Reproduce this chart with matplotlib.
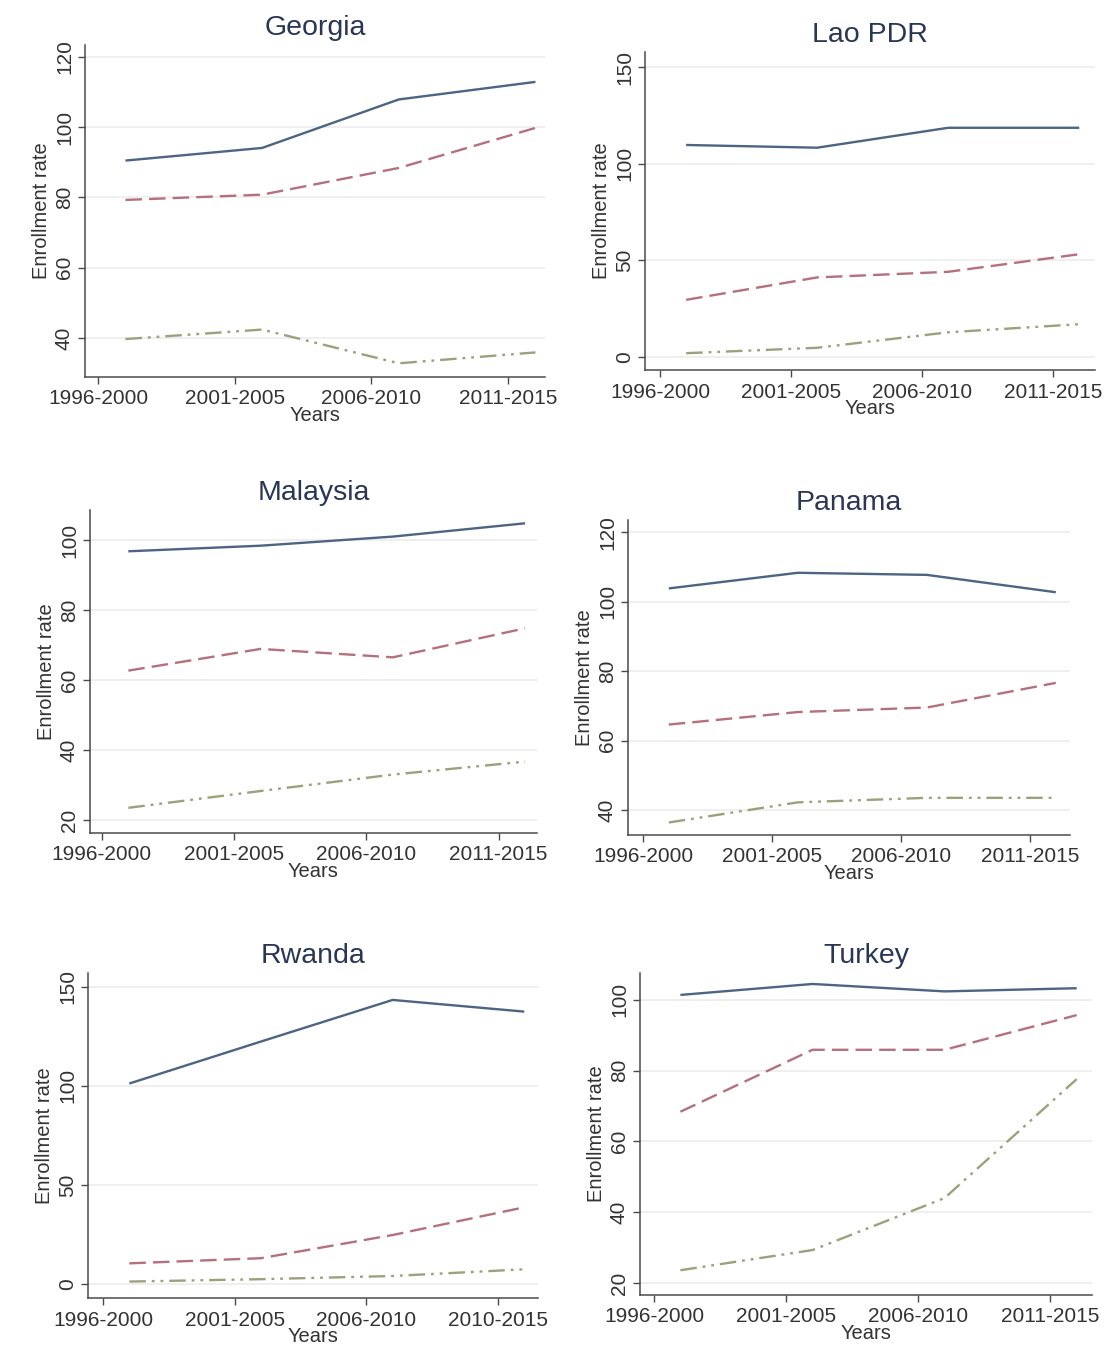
import matplotlib
matplotlib.use("Agg")
import matplotlib.pyplot as plt

# ---------------- data ----------------
periods = ["1996-2000", "2001-2005", "2006-2010", "2011-2015"]
periods_rwanda = ["1996-2000", "2001-2005", "2006-2010", "2010-2015"]
tick_years = [1996, 2001, 2006, 2011]
data_years = [1997, 2002, 2007, 2012]

georgia_primary = [90.5, 94.1, 107.9, 112.9]
georgia_secondary = [79.3, 80.8, 88.4, 99.8]
georgia_tertiary = [39.7, 42.4, 32.8, 35.9]

lao_primary = [109.7, 108.3, 118.6, 118.6]
lao_secondary = [29.6, 41.2, 44.1, 53.2]
lao_tertiary = [2.0, 4.8, 12.8, 17.0]

malaysia_primary = [96.8, 98.4, 101.0, 104.8]
malaysia_secondary = [62.7, 68.9, 66.5, 74.8]
malaysia_tertiary = [23.5, 28.3, 33.0, 36.7]

panama_primary = [103.8, 108.3, 107.7, 102.7]
panama_secondary = [64.6, 68.2, 69.5, 76.6]
panama_tertiary = [36.4, 42.2, 43.5, 43.5]

rwanda_primary = [101.2, 122.4, 143.4, 137.5]
rwanda_secondary = [10.4, 13.0, 24.7, 38.7]
rwanda_tertiary = [1.2, 2.4, 4.0, 7.4]

turkey_primary = [101.4, 104.5, 102.4, 103.3]
turkey_secondary = [68.4, 85.9, 85.9, 95.7]
turkey_tertiary = [23.6, 29.3, 44.0, 77.6]

georgia_yticks = [40, 60, 80, 100, 120]
lao_yticks = [0, 50, 100, 150]
malaysia_yticks = [20, 40, 60, 80, 100]
panama_yticks = [40, 60, 80, 100, 120]
rwanda_yticks = [0, 50, 100, 150]
turkey_yticks = [20, 40, 60, 80, 100]

# ---------------- style ----------------
W, H = 1115, 1357
plt.rcParams['font.family'] = ['Liberation Sans', 'DejaVu Sans']
C_PRI = "#4d6482"
C_SEC = "#b5707e"
C_TER = "#9ea07c"
AX_C = "#4a4a4a"
TXT_C = "#333333"
TITLE_C = "#2a3656"

fig = plt.figure(figsize=(W / 100, H / 100), dpi=100)
fig.patch.set_facecolor("white")

panels = [
    # title, primary, secondary, tertiary, yticks, labels, box(l,t,r,b px), xlim, ylim
    ("Georgia", georgia_primary, georgia_secondary, georgia_tertiary, georgia_yticks, periods,
     (85, 45, 545, 377), (1995.52, 2012.35), (28.9, 123.4)),
    ("Lao PDR", lao_primary, lao_secondary, lao_tertiary, lao_yticks, periods,
     (645, 52, 1095, 370), (1995.43, 2012.6), (-6.7, 157.8)),
    ("Malaysia", malaysia_primary, malaysia_secondary, malaysia_tertiary, malaysia_yticks, periods,
     (90, 510, 537, 833), (1995.55, 2012.45), (16.3, 108.6)),
    ("Panama", panama_primary, panama_secondary, panama_tertiary, panama_yticks, periods,
     (628, 520, 1070, 835), (1995.42, 2012.55), (32.8, 123.5)),
    ("Rwanda", rwanda_primary, rwanda_secondary, rwanda_tertiary, rwanda_yticks, periods_rwanda,
     (88, 973, 538, 1298), (1995.43, 2012.52), (-7.1, 157.0)),
    ("Turkey", turkey_primary, turkey_secondary, turkey_tertiary, turkey_yticks, periods,
     (640, 973, 1092, 1295), (1995.47, 2012.58), (16.6, 107.6)),
]

for title, pri, sec, ter, yt, labels, box, xl, yl in panels:
    l, t, r, b = box
    ax = fig.add_axes([l / W, 1 - b / H, (r - l) / W, (b - t) / H])
    ax.set_xlim(*xl)
    ax.set_ylim(*yl)
    ax.set_yticks(yt)
    ax.set_xticks(tick_years)
    ax.set_xticklabels(labels)
    for v in yt:
        ax.axhline(v, color="#ececec", lw=1.2, zorder=0)
    ax.plot(data_years, pri, color=C_PRI, lw=1.7, solid_capstyle="butt", zorder=3)
    ax.plot(data_years, sec, color=C_SEC, lw=1.7, dashes=(7, 3), zorder=3)
    ax.plot(data_years, ter, color=C_TER, lw=1.7, dashes=(7, 2.5, 1.2, 2.5, 1.2, 2.5), zorder=3)
    for s in ("top", "right"):
        ax.spines[s].set_visible(False)
    for s in ("left", "bottom"):
        ax.spines[s].set_color(AX_C)
        ax.spines[s].set_linewidth(1.1)
    ax.tick_params(axis="both", colors=AX_C, labelcolor=TXT_C, labelsize=15,
                   length=5, width=1.0, direction="out")
    ax.tick_params(axis="x", pad=4)
    ax.tick_params(axis="y", pad=3)
    for lab in ax.get_yticklabels():
        lab.set_rotation(90)
        lab.set_verticalalignment("center")
    ax.set_xlabel("Years", fontsize=14.5, color=TXT_C, labelpad=-2)
    ax.set_ylabel("Enrollment rate", fontsize=14.5, color=TXT_C, labelpad=3)
    ax.set_title(title, fontsize=20.5, color=TITLE_C, pad=7)

fig.savefig("out.png", dpi=100, facecolor="white")
